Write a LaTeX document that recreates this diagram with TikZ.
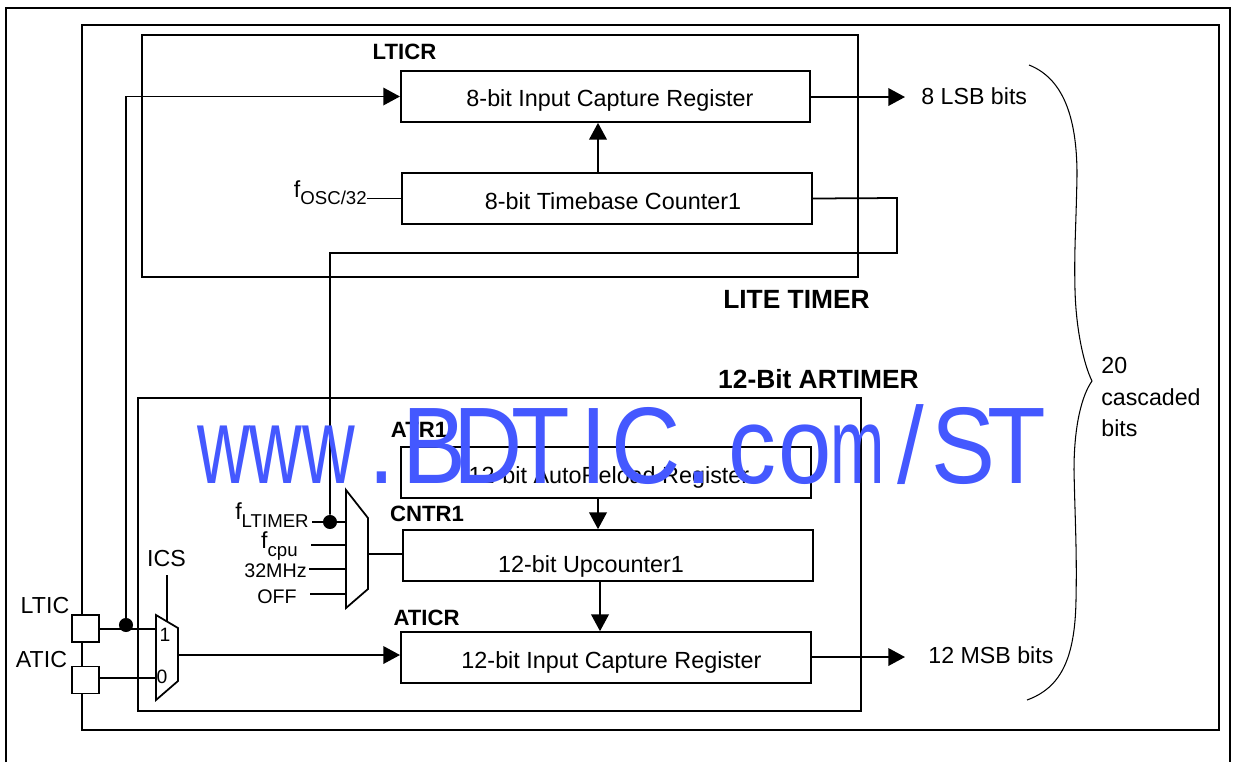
\documentclass[tikz,border=0pt]{standalone}
\usepackage{fontspec}
\setmainfont{Liberation Sans}
\usetikzlibrary{arrows.meta,positioning,calc}
\definecolor{wmblue}{RGB}{68,88,255}
\newlength{\wmadvance}
\setlength{\wmadvance}{34.2pt}
\newcommand{\wmchar}[1]{\makebox[\wmadvance][c]{#1}}
\newcommand{\wmthin}[2]{\makebox[\wmadvance][c]{\scalebox{#1}[1]{#2}}}
\newcommand{\lowtext}[1]{\raisebox{-.6ex}{\fontsize{10.6}{13}\selectfont #1}}
\tikzset{box/.style={draw,line width=1pt,rectangle,inner sep=0pt},
  frame/.style={line width=1.1pt},
  wire/.style={line width=1pt},
  flow/.style={-{Triangle[length=9.5pt,width=10pt]},line width=1pt},
  boxtext/.style={inner sep=0pt,font=\fontsize{13.3}{15}\selectfont},
  sidetext/.style={inner sep=0pt,font=\fontsize{13.2}{15}\selectfont},
  clocktext/.style={inner sep=0pt,font=\fontsize{11.2}{14}\selectfont},
  regname/.style={inner sep=0pt,font=\fontsize{12.6}{15}\selectfont\bfseries},
  blockname/.style={inner sep=0pt,font=\fontsize{15}{18}\selectfont\bfseries},
  muxtext/.style={inner sep=0pt,font=\fontsize{11}{13}\selectfont},
  junction/.style={circle,fill=black,inner sep=0pt,minimum size=8pt},
  pad/.style={box,fill=white,minimum width=15.3pt,minimum height=15.3pt}}

\begin{document}
\begin{tikzpicture}[x=.02cm,y=-.02cm]
\useasboundingbox (0,0) rectangle (1233,762);
% frames
\draw[frame] (6,762) |- (1230,8) -- (1230,762);
\draw[frame] (82,25) rectangle (1219,730);
\draw[frame] (142,35) rectangle (858,277);
\draw[frame] (138,398) rectangle (861,711);
% registers
\node[box,minimum width=233pt,minimum height=29pt] (lticr) at (605.5,96.5) {};
\node[box,minimum width=233.5pt,minimum height=29pt] (counter) at (607,198.5) {};
\node[box,minimum width=233.5pt,minimum height=29pt] (atr) at (606,472.5) {};
\node[box,minimum width=233.5pt,minimum height=29pt] (cntr) at (608,555.5) {};
\node[box,minimum width=233.5pt,minimum height=29pt] (aticr) at (606,657.5) {};
\node[boxtext] (lticrtext) at (610,100) {8-bit Input Capture Register};
\node[boxtext] (countertext) at (613,201.5) {8-bit Timebase Counter1};
\node[boxtext] (atrtext) at (609,477) {12-bit AutoReload Register};
\node[boxtext] (cntrtext) at (591,566) {12-bit Upcounter1};
\node[boxtext] (aticrtext) at (611.5,662) {12-bit Input Capture Register};
\node[regname] (lticrname) at (404.5,52) {LTICR};
\node[regname] (atrname) at (419,430) {ATR1};
\node[regname] (cntrname) at (427,514) {CNTR1};
\node[regname] (aticrname) at (426.5,618) {ATICR};
\node[blockname] (litename) at (796.5,299) {LITE TIMER};
\node[blockname] (artname) at (818.5,379) {12-Bit ARTIMER};
% pads and muxes
\node[pad] (ltic) at (85.5,628.5) {};
\node[pad] (atic) at (85.5,680) {};
\node[sidetext] (lticname) at (45,605) {LTIC};
\node[sidetext] (aticname) at (41.5,659) {ATIC};
\draw[wire] (156,615) -- (178,628) -- (178,681) -- (156,700) -- cycle;
\draw[wire] (346,490) -- (368,518) -- (368,589) -- (346,608) -- cycle;
\coordinate (ics1) at (157,629);
\coordinate (ics0) at (157,678);
\coordinate (icsout) at (178,655);
\coordinate (icssel) at (167,622);
\coordinate (clkout) at (368,554);
\node[muxtext] (icsone) at (165,635) {1};
\node[muxtext] (icszero) at (162,677) {0};
\node[sidetext] (icsname) at (166.5,559) {ICS};
\coordinate (icstop) at (167,575);
% clock inputs
\node[sidetext,anchor=east] (flt) at (309,515) {f\lowtext{LTIMER}};
\node[sidetext,anchor=east] (fcpu) at (298,546) {f\lowtext{cpu}};
\node[clocktext,anchor=east] (mhz) at (307,571) {32MHz};
\node[clocktext,anchor=east] (off) at (297,597) {OFF};
\node[sidetext,anchor=east] (fosc) at (367,193) {f\lowtext{OSC/32}};
\node[junction] (ltdot) at (330,522) {};
\node[junction] (icdot) at (126,625) {};
\coordinate (fltend) at (312,522);
\coordinate (fcpuend) at (311,545);
\coordinate (mhzend) at (309,569);
\coordinate (offend) at (310,594);
\draw[wire] (fltend) -- (346,522);
\draw[wire] (fcpuend) -- (346,545);
\draw[wire] (mhzend) -- (346,569);
\draw[wire] (offend) -- (346,594);
\draw[wire] (clkout) -- (clkout -| cntr.west);
\draw[wire] (fosc.east |- counter.west) -- (counter.west);
\draw[wire] (counter.east) -- (897,198) |- (330,253) -- (ltdot);
\draw[wire] (icstop) -- (icssel);
\draw[wire] (ltic.east |- ics1) -- (ics1);
\draw[wire] (atic.east |- ics0) -- (ics0);
% capture paths
\coordinate (upx) at (598,0);
\coordinate (downx) at (600,0);
\draw[flow] (icdot) |- (lticr.west);
\draw[flow] (icsout) -- (icsout -| aticr.west);
\draw[flow] (counter.north -| upx) -- (lticr.south -| upx);
\draw[flow] (atr.south -| upx) -- (cntr.north -| upx);
\draw[flow] (cntr.south -| downx) -- (aticr.north -| downx);
\coordinate (lsbtip) at (905,97);
\coordinate (msbtip) at (905,657);
\draw[flow] (lticr.east |- lsbtip) -- (lsbtip);
\draw[flow] (aticr.east |- msbtip) -- (msbtip);
\node[sidetext,anchor=west] (lsb) at (921,96) {8 LSB bits};
\node[sidetext,anchor=west] (msb) at (928,655) {12 MSB bits};
% brace
\draw[line width=.6pt] (1029,65) .. controls (1062,78) and (1077,115) .. (1077,175)
  .. controls (1076,230) and (1074,250) .. (1075,290) .. controls (1076,330) and (1084,365) .. (1092,381)
  .. controls (1082,395) and (1074,425) .. (1074,470) .. controls (1075,520) and (1077,550) .. (1076,600)
  .. controls (1075,660) and (1060,688) .. (1027,700);
\node[sidetext,anchor=west] (cascadeA) at (1101,366) {20};
\node[sidetext,anchor=west] (cascadeB) at (1101,397) {cascaded};
\node[sidetext,anchor=west] (cascadeC) at (1101,428) {bits};
% watermark
\node[inner sep=0pt,anchor=base,text=wmblue,font=\fontsize{62}{62}\selectfont] (mark) at (620,483) {\scalebox{.88}[1]{\wmthin{.76}{w}\wmthin{.76}{w}\wmthin{.76}{w}\wmchar{.}\wmchar{B}\wmchar{D}\wmchar{T}\wmchar{I}\wmchar{C}\wmchar{.}\wmchar{c}\wmchar{o}\wmthin{.68}{m}\wmchar{/}\wmchar{S}\wmchar{T}}};
\end{tikzpicture}
\end{document}
